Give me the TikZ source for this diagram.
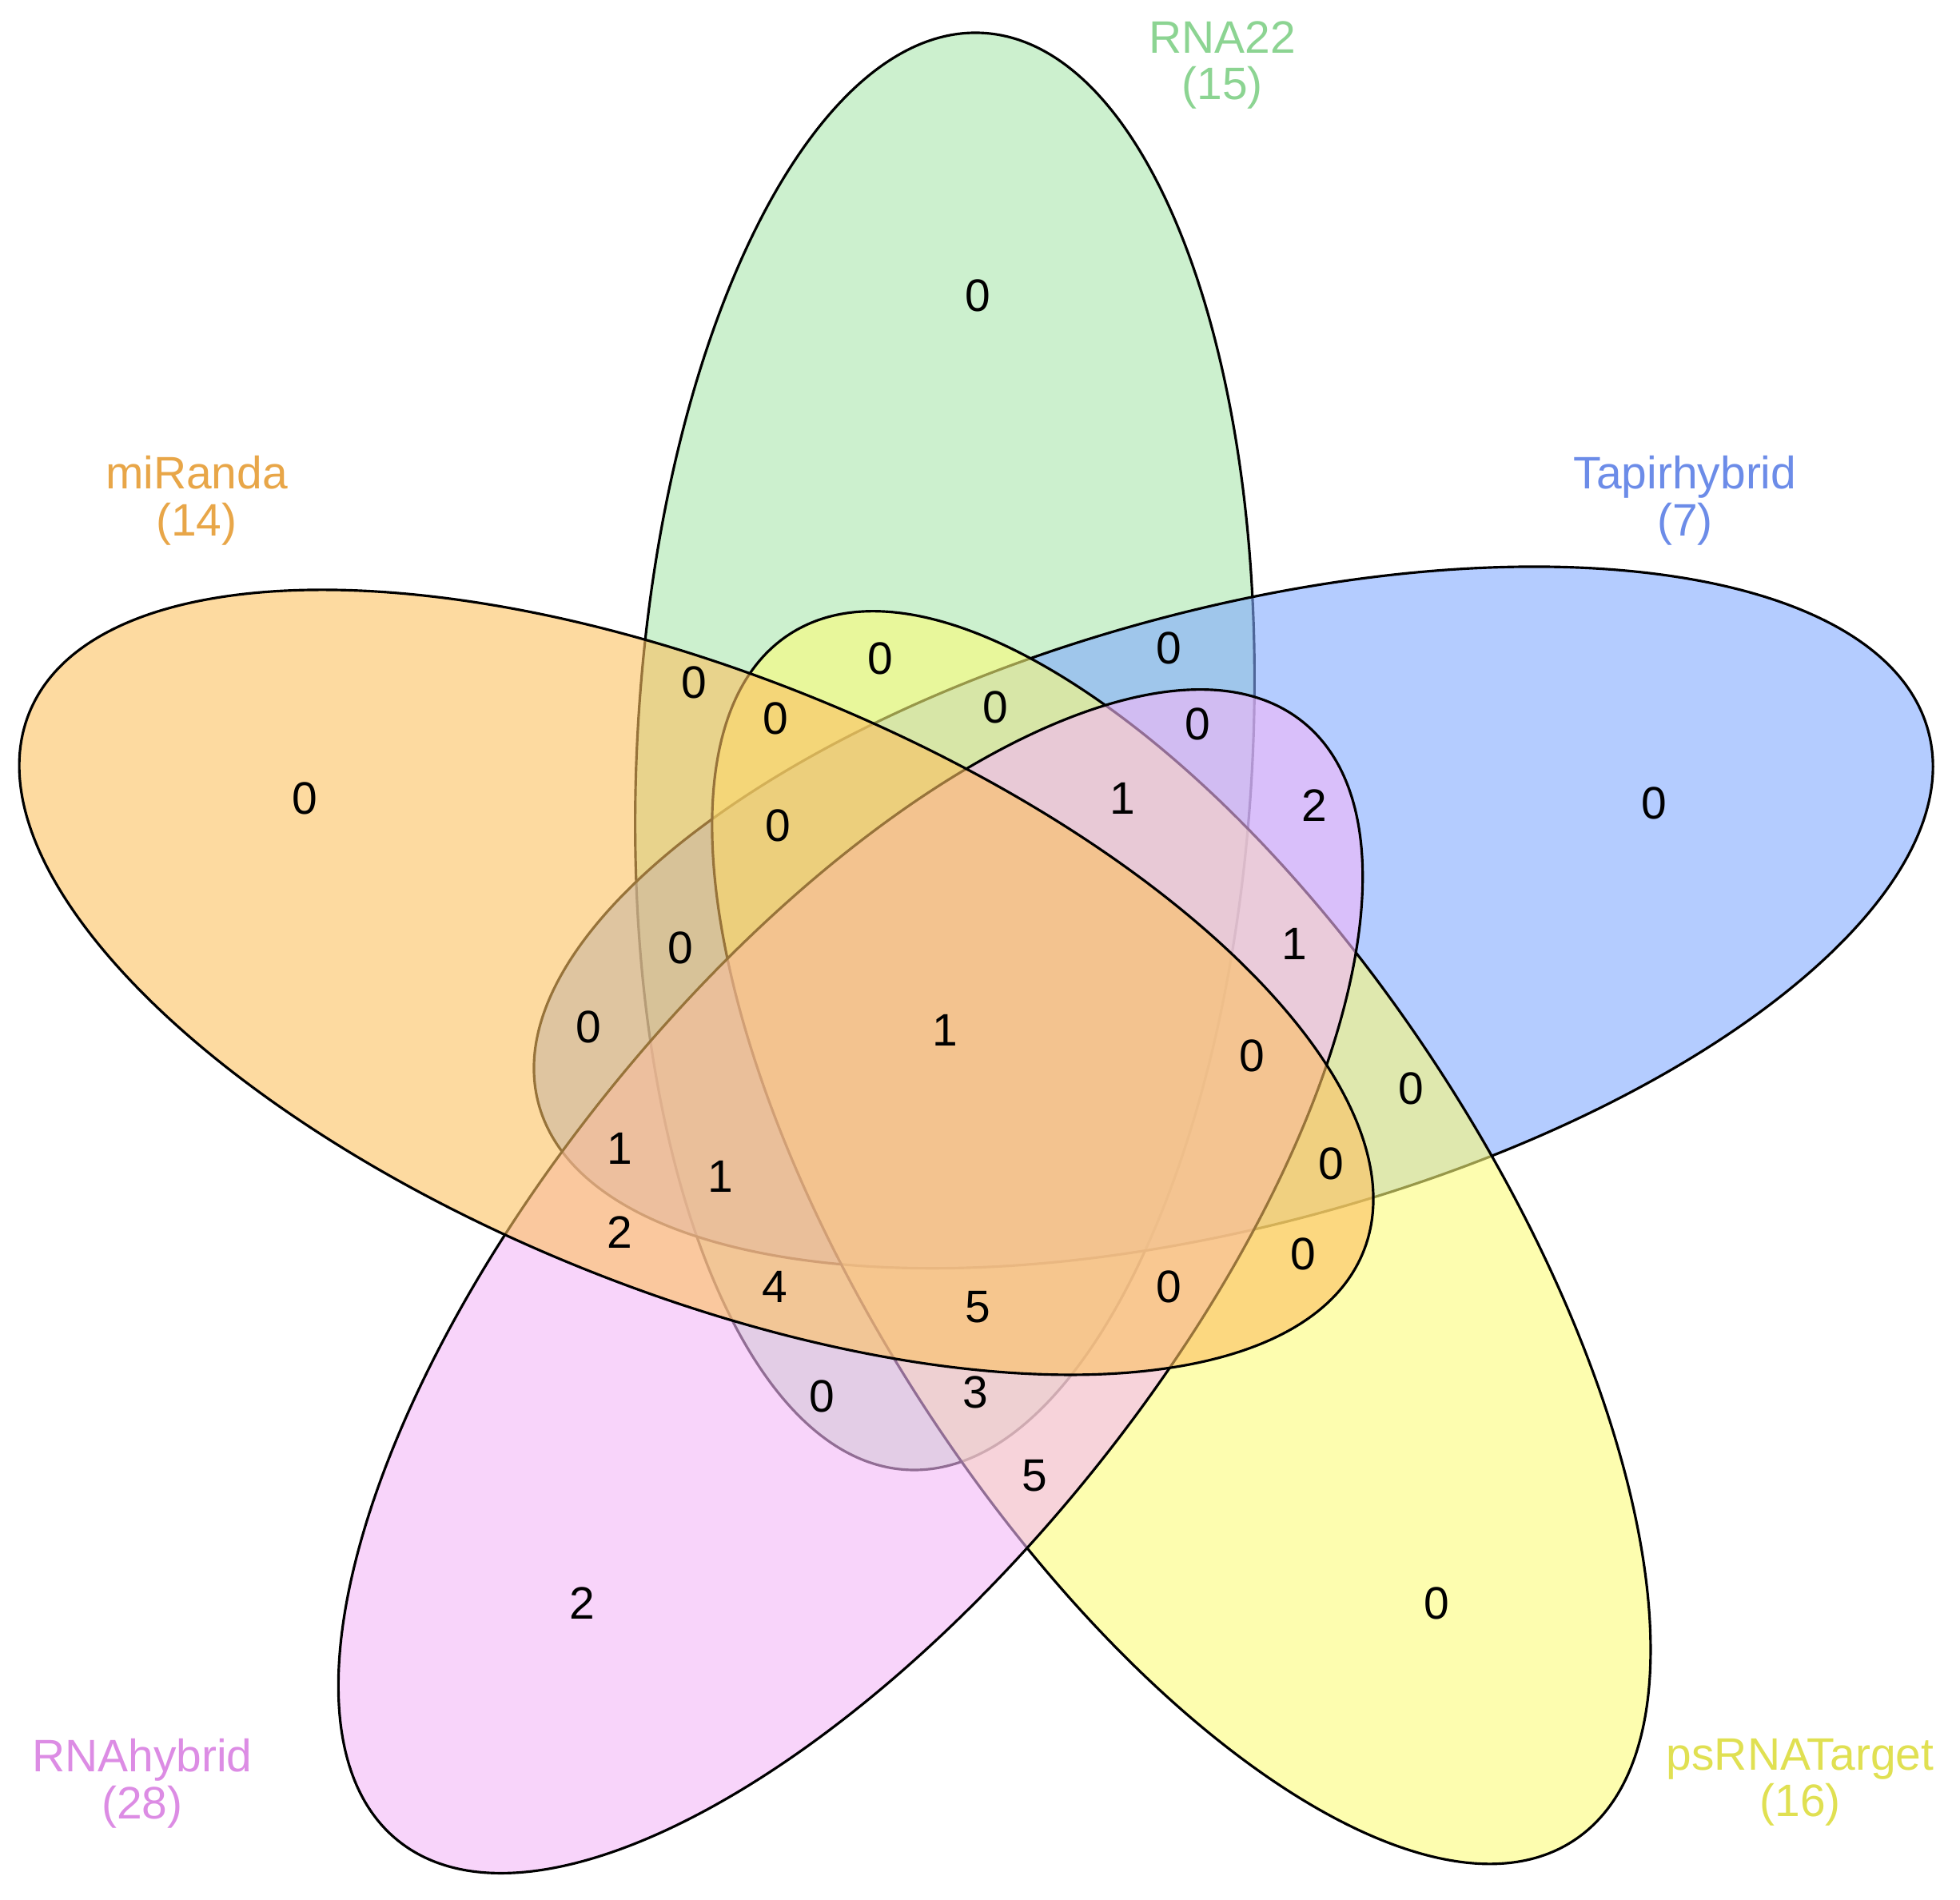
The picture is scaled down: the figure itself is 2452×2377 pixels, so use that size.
\documentclass[tikz,border=0pt]{standalone}
\usepackage{fontspec}
\setmainfont{Liberation Sans}
\definecolor{fillrna}{RGB}{170,230,173}
\definecolor{filltapir}{RGB}{130,170,255}
\definecolor{fillps}{RGB}{252,252,122}
\definecolor{fillhyb}{RGB}{243,183,247}
\definecolor{fillmir}{RGB}{252,193,97}
\definecolor{txtrna}{RGB}{140,212,146}
\definecolor{txttapir}{RGB}{108,140,232}
\definecolor{txtps}{RGB}{224,224,82}
\definecolor{txthyb}{RGB}{220,140,228}
\definecolor{txtmir}{RGB}{232,166,72}
\begin{document}
\begin{tikzpicture}[x=0.05mm, y=-0.05mm,
	venn/.style={draw=black, line width=0.45pt, fill opacity=0.6},
	cnt/.style={font=\fontsize{8.1}{9.7}\selectfont, inner sep=0pt},
	setname/.style={font=\fontsize{8.1}{8.3}\selectfont, align=center, inner sep=0pt, anchor=north}]
				\useasboundingbox (0,0) rectangle (2452,2377);
				% the five sets, each turned 72 degrees round the middle
				\draw [venn, fill=fillrna, rotate around={-3:(1182,940)}] (1182,940) ellipse [x radius=385, y radius=900];
				\draw [venn, fill=filltapir, shift={(-14,8)}, rotate around={-72:(1232,1298)}, rotate around={-3:(1182,940)}] (1182,940) ellipse [x radius=385, y radius=900];
				\draw [venn, fill=fillps, shift={(-5,-10)}, rotate around={-144:(1232,1298)}, rotate around={-3:(1182,940)}] (1182,940) ellipse [x radius=385, y radius=900];
				\draw [venn, fill=fillhyb, shift={(2,-14)}, rotate around={-216:(1232,1298)}, rotate around={-3:(1182,940)}] (1182,940) ellipse [x radius=385, y radius=900];
				\draw [venn, fill=fillmir, shift={(-5,-6)}, rotate around={-288:(1232,1298)}, rotate around={-4:(1182,940)}] (1182,940) ellipse [x radius=385, y radius=900];
				
				\node [setname, text=txtrna] (rna22) at (1529,25) {RNA22\\(15)};
				\node [setname, text=txtmir] (miranda) at (246,569) {miRanda\\(14)};
				\node [setname, text=txttapir] (tapir) at (2108,569) {Tapirhybrid\\(7)};
				\node [setname, text=txthyb] (rnahybrid) at (178,2174) {RNAhybrid\\(28)};
				\node [setname, text=txtps] (psrna) at (2252,2174) {psRNATarget\\(16)};
				
				\node [cnt] (c1) at (1223,370) {0};
				\node [cnt] (c2) at (381,999) {0};
				\node [cnt] (c3) at (2069,1005) {0};
				\node [cnt] (c4) at (728,2006) {2};
				\node [cnt] (c5) at (1797,2006) {0};
				\node [cnt] (c6) at (868,854) {0};
				\node [cnt] (c7) at (1101,824) {0};
				\node [cnt] (c8) at (1462,811) {0};
				\node [cnt] (c9) at (970,899) {0};
				\node [cnt] (c10) at (1245,885) {0};
				\node [cnt] (c11) at (1498,906) {0};
				\node [cnt] (c12) at (1404,999) {1};
				\node [cnt] (c13) at (1644,1008) {2};
				\node [cnt] (c14) at (973,1033) {0};
				\node [cnt] (c15) at (851,1186) {0};
				\node [cnt] (c16) at (1619,1181) {1};
				\node [cnt] (c17) at (736,1285) {0};
				\node [cnt] (c18) at (1182,1289) {1};
				\node [cnt] (c19) at (1566,1321) {0};
				\node [cnt] (c20) at (1765,1362) {0};
				\node [cnt] (c21) at (775,1437) {1};
				\node [cnt] (c22) at (901,1472) {1};
				\node [cnt] (c23) at (1665,1456) {0};
				\node [cnt] (c24) at (775,1542) {2};
				\node [cnt] (c25) at (1630,1569) {0};
				\node [cnt] (c26) at (969,1610) {4};
				\node [cnt] (c27) at (1223,1635) {5};
				\node [cnt] (c28) at (1462,1610) {0};
				\node [cnt] (c29) at (1028,1747) {0};
				\node [cnt] (c30) at (1220,1742) {3};
				\node [cnt] (c31) at (1294,1846) {5};
			\end{tikzpicture}
\end{document}
